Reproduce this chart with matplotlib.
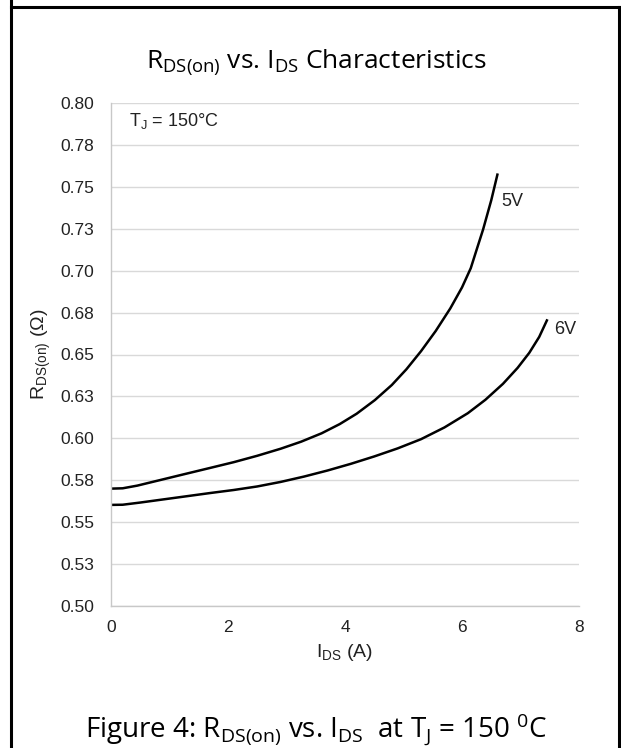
import matplotlib
matplotlib.use("Agg")
import matplotlib.pyplot as plt
from matplotlib.lines import Line2D

# values
ids_5v = [0.00, 0.20, 0.45, 0.85, 1.25, 1.70, 2.10, 2.50, 2.90, 3.25, 3.60, 3.91,
          4.20, 4.51, 4.80, 5.05, 5.30, 5.55, 5.80, 6.00, 6.15, 6.25, 6.36, 6.50, 6.61]
rds_5v = [0.5700, 0.5702, 0.5718, 0.5752, 0.5786, 0.5824, 0.5858, 0.5896, 0.5938,
          0.5980, 0.6030, 0.6085, 0.6147, 0.6228, 0.6318, 0.6412, 0.6520, 0.6640,
          0.6775, 0.6900, 0.7015, 0.7125, 0.7245, 0.7420, 0.7580]

ids_6v = [0.00, 0.20, 0.50, 0.90, 1.30, 1.70, 2.10, 2.50, 2.90, 3.30, 3.70, 4.10,
          4.50, 4.90, 5.30, 5.70, 6.10, 6.40, 6.70, 6.95, 7.15, 7.32, 7.46]
rds_6v = [0.5603, 0.5604, 0.5617, 0.5636, 0.5655, 0.5674, 0.5692, 0.5713, 0.5740,
          0.5772, 0.5808, 0.5848, 0.5892, 0.5940, 0.5995, 0.6065, 0.6150, 0.6230,
          0.6325, 0.6420, 0.6510, 0.6605, 0.6710]

y_ticks = [0.500, 0.525, 0.550, 0.575, 0.600, 0.625, 0.650, 0.675, 0.700, 0.725, 0.750, 0.775, 0.800]
y_tick_labels = ["0.50", "0.53", "0.55", "0.58", "0.60", "0.63", "0.65", "0.68",
                 "0.70", "0.73", "0.75", "0.78", "0.80"]
x_ticks = [0, 2, 4, 6, 8]

W, H = 621, 748
fig = plt.figure(figsize=(W / 100, H / 100), dpi=100)
ax = fig.add_axes([111 / W, 1 - 606 / H, 468 / W, 503 / H])

ax.plot(ids_5v, rds_5v, color="black", lw=1.8, solid_capstyle="butt", solid_joinstyle="round")
ax.plot(ids_6v, rds_6v, color="black", lw=1.8, solid_capstyle="butt", solid_joinstyle="round")

ax.set_xlim(0, 8)
ax.set_ylim(0.5, 0.8)
ax.set_xticks(x_ticks)
ax.set_yticks(y_ticks)
ax.set_yticklabels(y_tick_labels)
ax.grid(axis="y", color="#d9d9d9", lw=1)
ax.set_axisbelow(True)
for s in ["top", "right"]:
    ax.spines[s].set_visible(False)
for s in ["left", "bottom"]:
    ax.spines[s].set_color("#c8c8c8")
    ax.spines[s].set_linewidth(1)
ax.tick_params(axis="both", length=0, labelsize=12.5, labelcolor="#222222",
               labelfontfamily="Liberation Sans")
ax.tick_params(axis="y", pad=12)
ax.tick_params(axis="x", pad=10)

lab = dict(fontsize=14, family="Liberation Sans", color="#222222")
ax.set_xlabel(r"$\mathregular{I_{DS}}$ (A)", labelpad=5, **lab)
ax.set_ylabel(r"$\mathregular{R_{DS(on)}}$ ($\mathregular{\Omega}$)", labelpad=5, **lab)

small = dict(fontsize=13, family="Liberation Sans", color="#222222")
ax.text(0.31, 0.789, r"$\mathregular{T_J}$ = 150°C", va="center", ha="left", **small)
ax.text(6.855, 0.7413, "5V", va="center", ha="center", **small)
ax.text(7.76, 0.6648, "6V", va="center", ha="center", **small)

fig.text(316 / W, 1 - 62 / H, r"$\mathregular{R_{DS(on)}}$ vs. $\mathregular{I_{DS}}$ Characteristics",
         ha="center", va="center", fontsize=19, family="Open Sans", color="black")
fig.text(316 / W, 1 - 729 / H,
         r"Figure 4: $\mathregular{R_{DS(on)}}$ vs. $\mathregular{I_{DS}}$  at $\mathregular{T_J}$ = 150 $\mathregular{^0}$C",
         ha="center", va="center", fontsize=20, family="Open Sans", color="black")

# frame around the figure
fig.add_artist(Line2D([10.5 / W, 10.5 / W], [0, 1], color="black", lw=2.2, transform=fig.transFigure))
fig.add_artist(Line2D([619 / W, 619 / W], [0, 1 - 6.5 / H], color="black", lw=2.2, transform=fig.transFigure))
fig.add_artist(Line2D([10.5 / W, 1], [1 - 6.5 / H, 1 - 6.5 / H], color="black", lw=2.2, transform=fig.transFigure))

fig.savefig("out.png", dpi=100)
